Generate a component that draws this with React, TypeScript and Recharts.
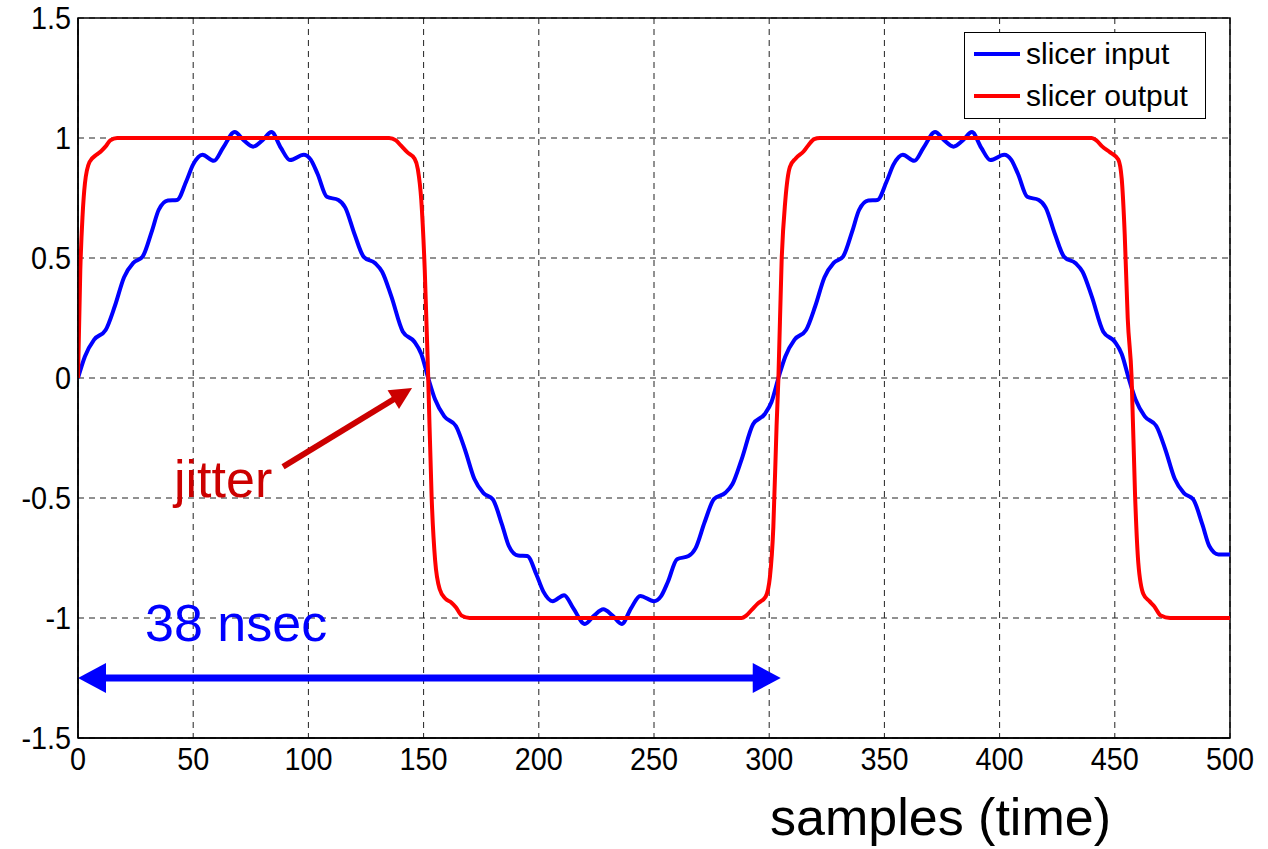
import React from 'react';
import { LineChart, Line, XAxis, YAxis, CartesianGrid, ReferenceLine, ReferenceArea, Legend } from 'recharts';

// slicer input (blue)
const inputSamples = [
  0, 3, 7, 12, 16, 20, 24, 28, 32, 35, 39, 43, 47, 50, 54, 59, 63, 68, 72, 76, 80, 84, 88, 92, 98, 101, 104, 108, 113, 116, 120, 124, 129, 132, 136, 141, 146, 149, 152,
  155, 159, 164, 168, 172, 176, 180, 184, 187, 191, 195, 199, 202, 206, 211, 215, 220, 224, 228, 232, 236, 240, 244, 250, 253, 256, 260, 265, 268, 272, 276, 281, 284, 288, 293, 298, 301, 304,
  307, 311, 316, 320, 324, 328, 332, 336, 339, 343, 347, 351, 354, 358, 363, 367, 372, 376, 380, 384, 388, 392, 396, 402, 405, 408, 412, 417, 420, 424, 428, 433, 436, 440, 445, 450, 453, 456,
  459, 463, 468, 472, 476, 480, 484, 488, 491, 495, 500,
];
const inputLevels = [
  0, 0.09, 0.16, 0.2, 0.3, 0.42, 0.48, 0.505, 0.61, 0.7, 0.74, 0.742, 0.82, 0.89, 0.93, 0.905, 0.96, 1.025, 0.99, 0.964, 0.99, 1.025, 0.96, 0.908, 0.93, 0.91, 0.85, 0.755, 0.742, 0.71, 0.6, 0.505, 0.478, 0.443, 0.34, 0.193, 0.151, 0.1, 0,
  -0.09, -0.16, -0.2, -0.3, -0.42, -0.48, -0.505, -0.61, -0.7, -0.74, -0.742, -0.82, -0.89, -0.93, -0.905, -0.96, -1.025, -0.99, -0.964, -0.99, -1.025, -0.96, -0.908, -0.93, -0.91, -0.85, -0.755, -0.742, -0.71, -0.6, -0.505, -0.478, -0.443, -0.34, -0.193, -0.151, -0.1, 0,
  0.09, 0.16, 0.2, 0.3, 0.42, 0.48, 0.505, 0.61, 0.7, 0.74, 0.742, 0.82, 0.89, 0.93, 0.905, 0.96, 1.025, 0.99, 0.964, 0.99, 1.025, 0.96, 0.908, 0.93, 0.91, 0.85, 0.755, 0.742, 0.71, 0.6, 0.505, 0.478, 0.443, 0.34, 0.193, 0.151, 0.1, 0,
  -0.09, -0.16, -0.2, -0.3, -0.42, -0.48, -0.505, -0.61, -0.7, -0.735, -0.735,
];

// slicer output (red)
const outputSamples = [
  0, 1, 2, 3, 5, 8, 10, 12, 14, 17, 135, 138, 140, 143, 146, 147.5, 149, 150.5, 152,
  153.5, 155, 157, 159.5, 162, 164, 166.5, 170, 288, 290, 292.5, 295, 298.5, 300.3, 301.8, 303.2, 304,
  305.4, 307, 309, 311.5, 315, 317, 319.5, 322, 440, 442, 444.5, 448, 451.5, 453, 454.3, 455.6, 457.3,
  458.8, 460.2, 462.4, 465, 467, 470, 474, 500,
];
const outputLevels = [
  0, 0.45, 0.68, 0.81, 0.9, 0.93, 0.945, 0.965, 0.99, 1, 1, 0.99, 0.97, 0.94, 0.915, 0.87, 0.74, 0.45, 0,
  -0.5, -0.76, -0.88, -0.92, -0.935, -0.955, -0.99, -1, -1, -0.99, -0.965, -0.94, -0.91, -0.83, -0.62, -0.2, 0,
  0.49, 0.74, 0.88, 0.915, 0.945, 0.97, 0.995, 1, 1, 0.99, 0.965, 0.94, 0.91, 0.83, 0.6, 0.25, 0,
  -0.49, -0.77, -0.9, -0.93, -0.95, -0.99, -1, -1,
];

const sampleTicks = [0, 50, 100, 150, 200, 250, 300, 350, 400, 450, 500];
const levelTicks = [-1.5, -1, -0.5, 0, 0.5, 1, 1.5];

// annotation anchors (data coords)
const periodSpan = [0, 305];
const periodLevel = -1.25;
const jitterFrom = { x: 89, y: -0.37 };
const jitterTo = { x: 145, y: -0.042 };

const inputData = inputSamples.map((s, i) => ({ s, v: inputLevels[i] }));
const outputData = outputSamples.map((s, i) => ({ s, v: outputLevels[i] }));

const FONT = '"Liberation Sans", Arial, Helvetica, sans-serif';

function arrow(color: string, lw: number, head: number, spread: number, both: boolean) {
  return (props: any) => {
    const { x1, y1, x2, y2 } = props;
    const dx = x2 - x1;
    const dy = y2 - y1;
    const len = Math.hypot(dx, dy) || 1;
    const ux = dx / len;
    const uy = dy / len;
    const nx = -uy;
    const ny = ux;
    const tip = (tx: number, ty: number, dirx: number, diry: number) => {
      const bx = tx - dirx * head;
      const by = ty - diry * head;
      return `${tx},${ty} ${bx + nx * spread},${by + ny * spread} ${bx - nx * spread},${by - ny * spread}`;
    };
    const sx = both ? x1 + ux * (head - 2) : x1;
    const sy = both ? y1 + uy * (head - 2) : y1;
    const ex = x2 - ux * (head - 2);
    const ey = y2 - uy * (head - 2);
    return (
      <g>
        <line x1={sx} y1={sy} x2={ex} y2={ey} stroke={color} strokeWidth={lw} />
        <polygon points={tip(x2, y2, ux, uy)} fill={color} />
        {both && <polygon points={tip(x1, y1, -ux, -uy)} fill={color} />}
      </g>
    );
  };
}

// slightly narrow tick text, like the original export
function Tick({ x, y, payload, textAnchor, vertical }: any) {
  return (
    <text
      transform={`translate(${x},${y}) scale(0.9,1)`}
      textAnchor={textAnchor}
      dy={vertical ? '0.355em' : '0.71em'}
      fontSize={32}
      fontFamily={FONT}
      fill="#000"
    >
      {String(payload.value)}
    </text>
  );
}

function LegendBox({ payload }: any) {
  return (
    <div style={{ border: '1px solid #000', background: '#fff', width: 240, height: 85, fontFamily: FONT }}>
      {(payload || []).map((p: any) => (
        <div key={p.value} style={{ display: 'flex', alignItems: 'center', height: 42 }}>
          <div style={{ marginLeft: 9, width: 46, height: 4, background: p.color }} />
          <span style={{ marginLeft: 6, fontSize: 30, lineHeight: '30px', color: '#000' }}>{p.value}</span>
        </div>
      ))}
    </div>
  );
}

export default function App() {
  return (
    <div style={{ position: 'absolute', left: 0, top: 0, width: 1268, height: 849, background: '#fff' }}>
      <LineChart width={1268} height={849} margin={{ top: 18, right: 38, left: 0, bottom: 0 }}>
        <CartesianGrid stroke="#222" strokeDasharray="6 5" />
        <XAxis
          type="number"
          dataKey="s"
          domain={[0, 500]}
          ticks={sampleTicks}
          allowDataOverflow
          height={111}
          tickSize={0}
          tickMargin={9}
          tick={<Tick vertical={false} />}
          axisLine={{ stroke: '#000', strokeWidth: 1.5 }}
        />
        <YAxis
          type="number"
          domain={[-1.5, 1.5]}
          ticks={levelTicks}
          allowDataOverflow
          width={78}
          tickSize={0}
          tickMargin={7}
          tick={<Tick vertical />}
          axisLine={{ stroke: '#000', strokeWidth: 1.5 }}
        />
        <ReferenceArea x1={0} x2={500} y1={-1.5} y2={1.5} fill="none" stroke="#000" strokeWidth={1.5} />
        <Line
          data={inputData}
          dataKey="v"
          name="slicer input"
          type="monotone"
          stroke="#0000ff"
          strokeWidth={4}
          dot={false}
          isAnimationActive={false}
        />
        <Line
          data={outputData}
          dataKey="v"
          name="slicer output"
          type="monotone"
          stroke="#ff0000"
          strokeWidth={4}
          dot={false}
          isAnimationActive={false}
        />
        <ReferenceLine
          segment={[{ x: periodSpan[0], y: periodLevel }, { x: periodSpan[1], y: periodLevel }]}
          shape={arrow('#0000ff', 7, 28, 15, true)}
        />
        <ReferenceLine
          segment={[jitterFrom, jitterTo]}
          shape={arrow('#cc0000', 6, 22, 11, false)}
        />
        <Legend
          layout="horizontal"
          verticalAlign="middle"
          align="center"
          content={<LegendBox />}
          wrapperStyle={{ top: 32, left: 964, width: 242, height: 87 }}
        />
      </LineChart>
      <div style={{ position: 'absolute', left: 174, top: 453, fontFamily: FONT, fontSize: 52, lineHeight: 1, color: '#cc0000' }}>
        jitter
      </div>
      <div style={{ position: 'absolute', left: 145, top: 597, fontFamily: FONT, fontSize: 52, lineHeight: 1, color: '#0000ff' }}>
        38 nsec
      </div>
      <div style={{ position: 'absolute', left: 770, top: 791, fontFamily: FONT, fontSize: 52, lineHeight: 1, color: '#000' }}>
        samples (time)
      </div>
    </div>
  );
}
